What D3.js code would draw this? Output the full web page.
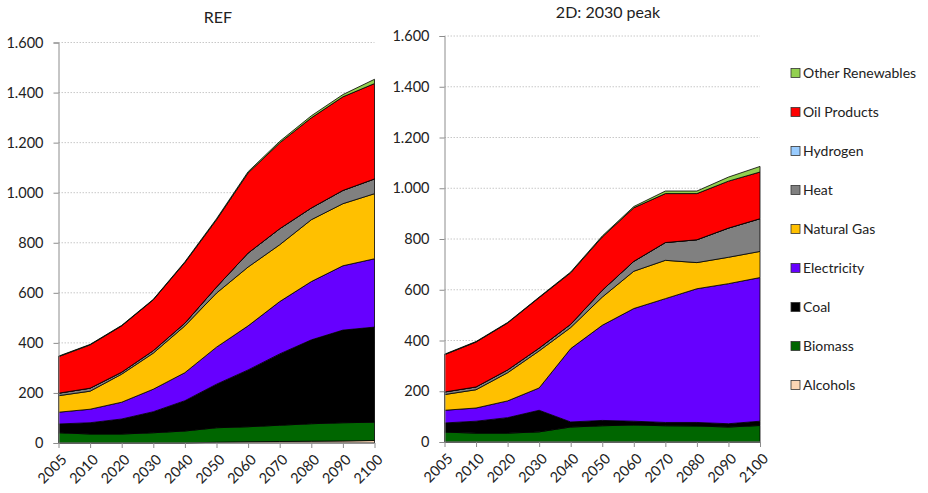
<!DOCTYPE html>
<html>
<head>
<meta charset="utf-8">
<script src="https://cdn.jsdelivr.net/npm/d3@7"></script>
<style>
  html, body { margin: 0; padding: 0; background: #fff; }
  svg { display: block; font-family: Lato, "Open Sans", sans-serif; }
</style>
</head>
<body>
<svg id="chart" width="928" height="493"></svg>
<script>
// ---------- DATA ----------
const years = ["2005","2010","2020","2030","2040","2050","2060","2070","2080","2090","2100"];
const seriesNames = ["Alcohols","Biomass","Coal","Electricity","Natural Gas","Heat","Hydrogen","Oil Products","Other Renewables"];
const yTicks = [0, 200, 400, 600, 800, 1000, 1200, 1400, 1600];
const chartTitles = ["REF", "2D: 2030 peak"];

// REF scenario
const refAlcohols        = [0, 0, 0, 0, 0, 3, 5, 6, 7, 8, 10];
const refBiomass         = [41, 36, 36, 41, 48, 58, 60, 65, 70, 73, 73];
const refCoal            = [35, 45, 60, 84, 121, 174, 227, 285, 335, 370, 380];
const refElectricity     = [47, 54, 67, 90, 112, 148, 176, 209, 233, 257, 273];
const refNaturalGas      = [66, 72, 112, 144, 187, 216, 235, 227, 247, 248, 260];
const refHeat            = [10, 12, 8, 10, 11, 24, 56, 64, 47, 53, 59];
const refHydrogen        = [0, 0, 0, 0, 0, 0, 0, 0, 0, 0, 0];
const refOilProducts     = [146, 173, 185, 203, 242, 269, 320, 343, 360, 374, 381];
const refOtherRenewables = [2, 2, 2, 2, 3, 4, 5, 6, 8, 9, 17];

// 2D: 2030 peak scenario
const d2Alcohols        = [0, 0, 0, 0, 0, 0, 0, 0, 0, 0, 0];
const d2Biomass         = [39, 35, 35, 40, 59, 64, 67, 64, 63, 59, 65];
const d2Coal            = [36, 47, 61, 85, 20, 21, 15, 13, 14, 13, 17];
const d2Electricity     = [50, 52, 66, 88, 289, 375, 444, 488, 527, 552, 566];
const d2NaturalGas      = [62, 72, 111, 146, 83, 111, 147, 151, 103, 104, 103];
const d2Heat            = [10, 11, 11, 11, 13, 27, 39, 70, 90, 115, 129];
const d2Hydrogen        = [0, 0, 0, 0, 0, 0, 0, 0, 0, 0, 0];
const d2OilProducts     = [147, 177, 185, 199, 203, 210, 211, 193, 182, 185, 184];
const d2OtherRenewables = [2, 2, 2, 2, 3, 4, 5, 10, 10, 16, 22];

// ---------- STYLE ----------
const colorOf = {
  "Alcohols": "#FCD5B4",
  "Biomass": "#006600",
  "Coal": "#000000",
  "Electricity": "#6600FF",
  "Natural Gas": "#FFC000",
  "Heat": "#808080",
  "Hydrogen": "#99CCFF",
  "Oil Products": "#FF0000",
  "Other Renewables": "#92D050"
};

function buildRows(arrs) {
  return years.map((yr, i) => {
    const row = { year: yr };
    seriesNames.forEach((s, k) => { row[s] = arrs[k][i]; });
    return row;
  });
}

const refRows = buildRows([refAlcohols, refBiomass, refCoal, refElectricity, refNaturalGas, refHeat, refHydrogen, refOilProducts, refOtherRenewables]);
const d2Rows = buildRows([d2Alcohols, d2Biomass, d2Coal, d2Electricity, d2NaturalGas, d2Heat, d2Hydrogen, d2OilProducts, d2OtherRenewables]);

const svg = d3.select("#chart");
const locale = d3.formatLocale({ decimal: ",", thousands: ".", grouping: [3], currency: ["", ""] });
const fmt = locale.format(",");
const textColor = "#222";
const axisColor = "#8c8c8c";

function drawChart(rows, title, box) {
  const x = d3.scalePoint().domain(years).range([box.x0, box.x1]);
  const y = d3.scaleLinear().domain([0, 1600]).range([box.yb, box.yt]);
  const g = svg.append("g");

  // gridlines
  g.selectAll("line.grid").data(yTicks.filter(t => t > 0)).join("line")
    .attr("x1", box.x0).attr("x2", box.x1)
    .attr("y1", d => y(d)).attr("y2", d => y(d))
    .attr("stroke", "#c8c8c8").attr("stroke-width", 1)
    .attr("stroke-dasharray", "1.5,1.5");

  // stacked areas
  const stack = d3.stack().keys(seriesNames);
  const layers = stack(rows);
  const area = d3.area()
    .x(d => x(d.data.year))
    .y0(d => y(d[0]))
    .y1(d => y(d[1]));
  g.selectAll("path.layer").data(layers).join("path")
    .attr("d", area)
    .attr("fill", d => colorOf[d.key])
    .attr("stroke", "#000")
    .attr("stroke-width", 0.8)
    .attr("stroke-linejoin", "round");

  // y axis
  const yAxis = d3.axisLeft(y).tickValues(yTicks).tickFormat(fmt).tickSize(5).tickPadding(10);
  const ya = g.append("g").attr("transform", `translate(${box.x0},0)`).call(yAxis);
  ya.select(".domain").attr("stroke", axisColor);
  ya.selectAll(".tick line").attr("stroke", axisColor);
  ya.selectAll("text").attr("font-size", 14.5).attr("fill", textColor).attr("font-family", "Lato, 'Open Sans', sans-serif");

  // x axis
  const xAxis = d3.axisBottom(x).tickSize(5).tickFormat(d => d);
  const xa = g.append("g").attr("transform", `translate(0,${box.yb})`).call(xAxis);
  xa.select(".domain").attr("stroke", axisColor).attr("d", `M${box.x0},0H${box.x1}`);
  xa.selectAll(".tick line").attr("stroke", axisColor);
  xa.selectAll("text")
    .attr("font-size", 14.5).attr("fill", textColor).attr("font-family", "Lato, 'Open Sans', sans-serif")
    .attr("text-anchor", "end")
    .attr("dy", "0.35em")
    .attr("transform", "translate(5,14) rotate(-45)")
    .attr("y", 0).attr("x", 0);

  // title
  g.append("text")
    .attr("x", box.tx).attr("y", box.ty)
    .attr("text-anchor", "middle")
    .attr("font-size", 16).attr("fill", textColor)
    .text(title);
}

drawChart(refRows, chartTitles[0], { x0: 58.5, x1: 374.5, yb: 443, yt: 42.5, tx: 218, ty: 23 });
drawChart(d2Rows, chartTitles[1], { x0: 444.5, x1: 760, yb: 442, yt: 36, tx: 608, ty: 18 });

// legend (reverse order: top series first)
const legendItems = seriesNames.slice().reverse();
const lg = svg.append("g").attr("transform", "translate(791,73)");
const item = lg.selectAll("g.item").data(legendItems).join("g")
  .attr("transform", (d, i) => `translate(0,${i * 39})`);
item.append("rect")
  .attr("x", 0).attr("y", -4.5).attr("width", 9).attr("height", 9)
  .attr("fill", d => colorOf[d]).attr("stroke", "#333").attr("stroke-width", 0.8);
item.append("text")
  .attr("x", 12).attr("y", 0).attr("dy", "0.35em")
  .attr("font-size", 14).attr("fill", textColor)
  .text(d => d);
</script>
</body>
</html>
